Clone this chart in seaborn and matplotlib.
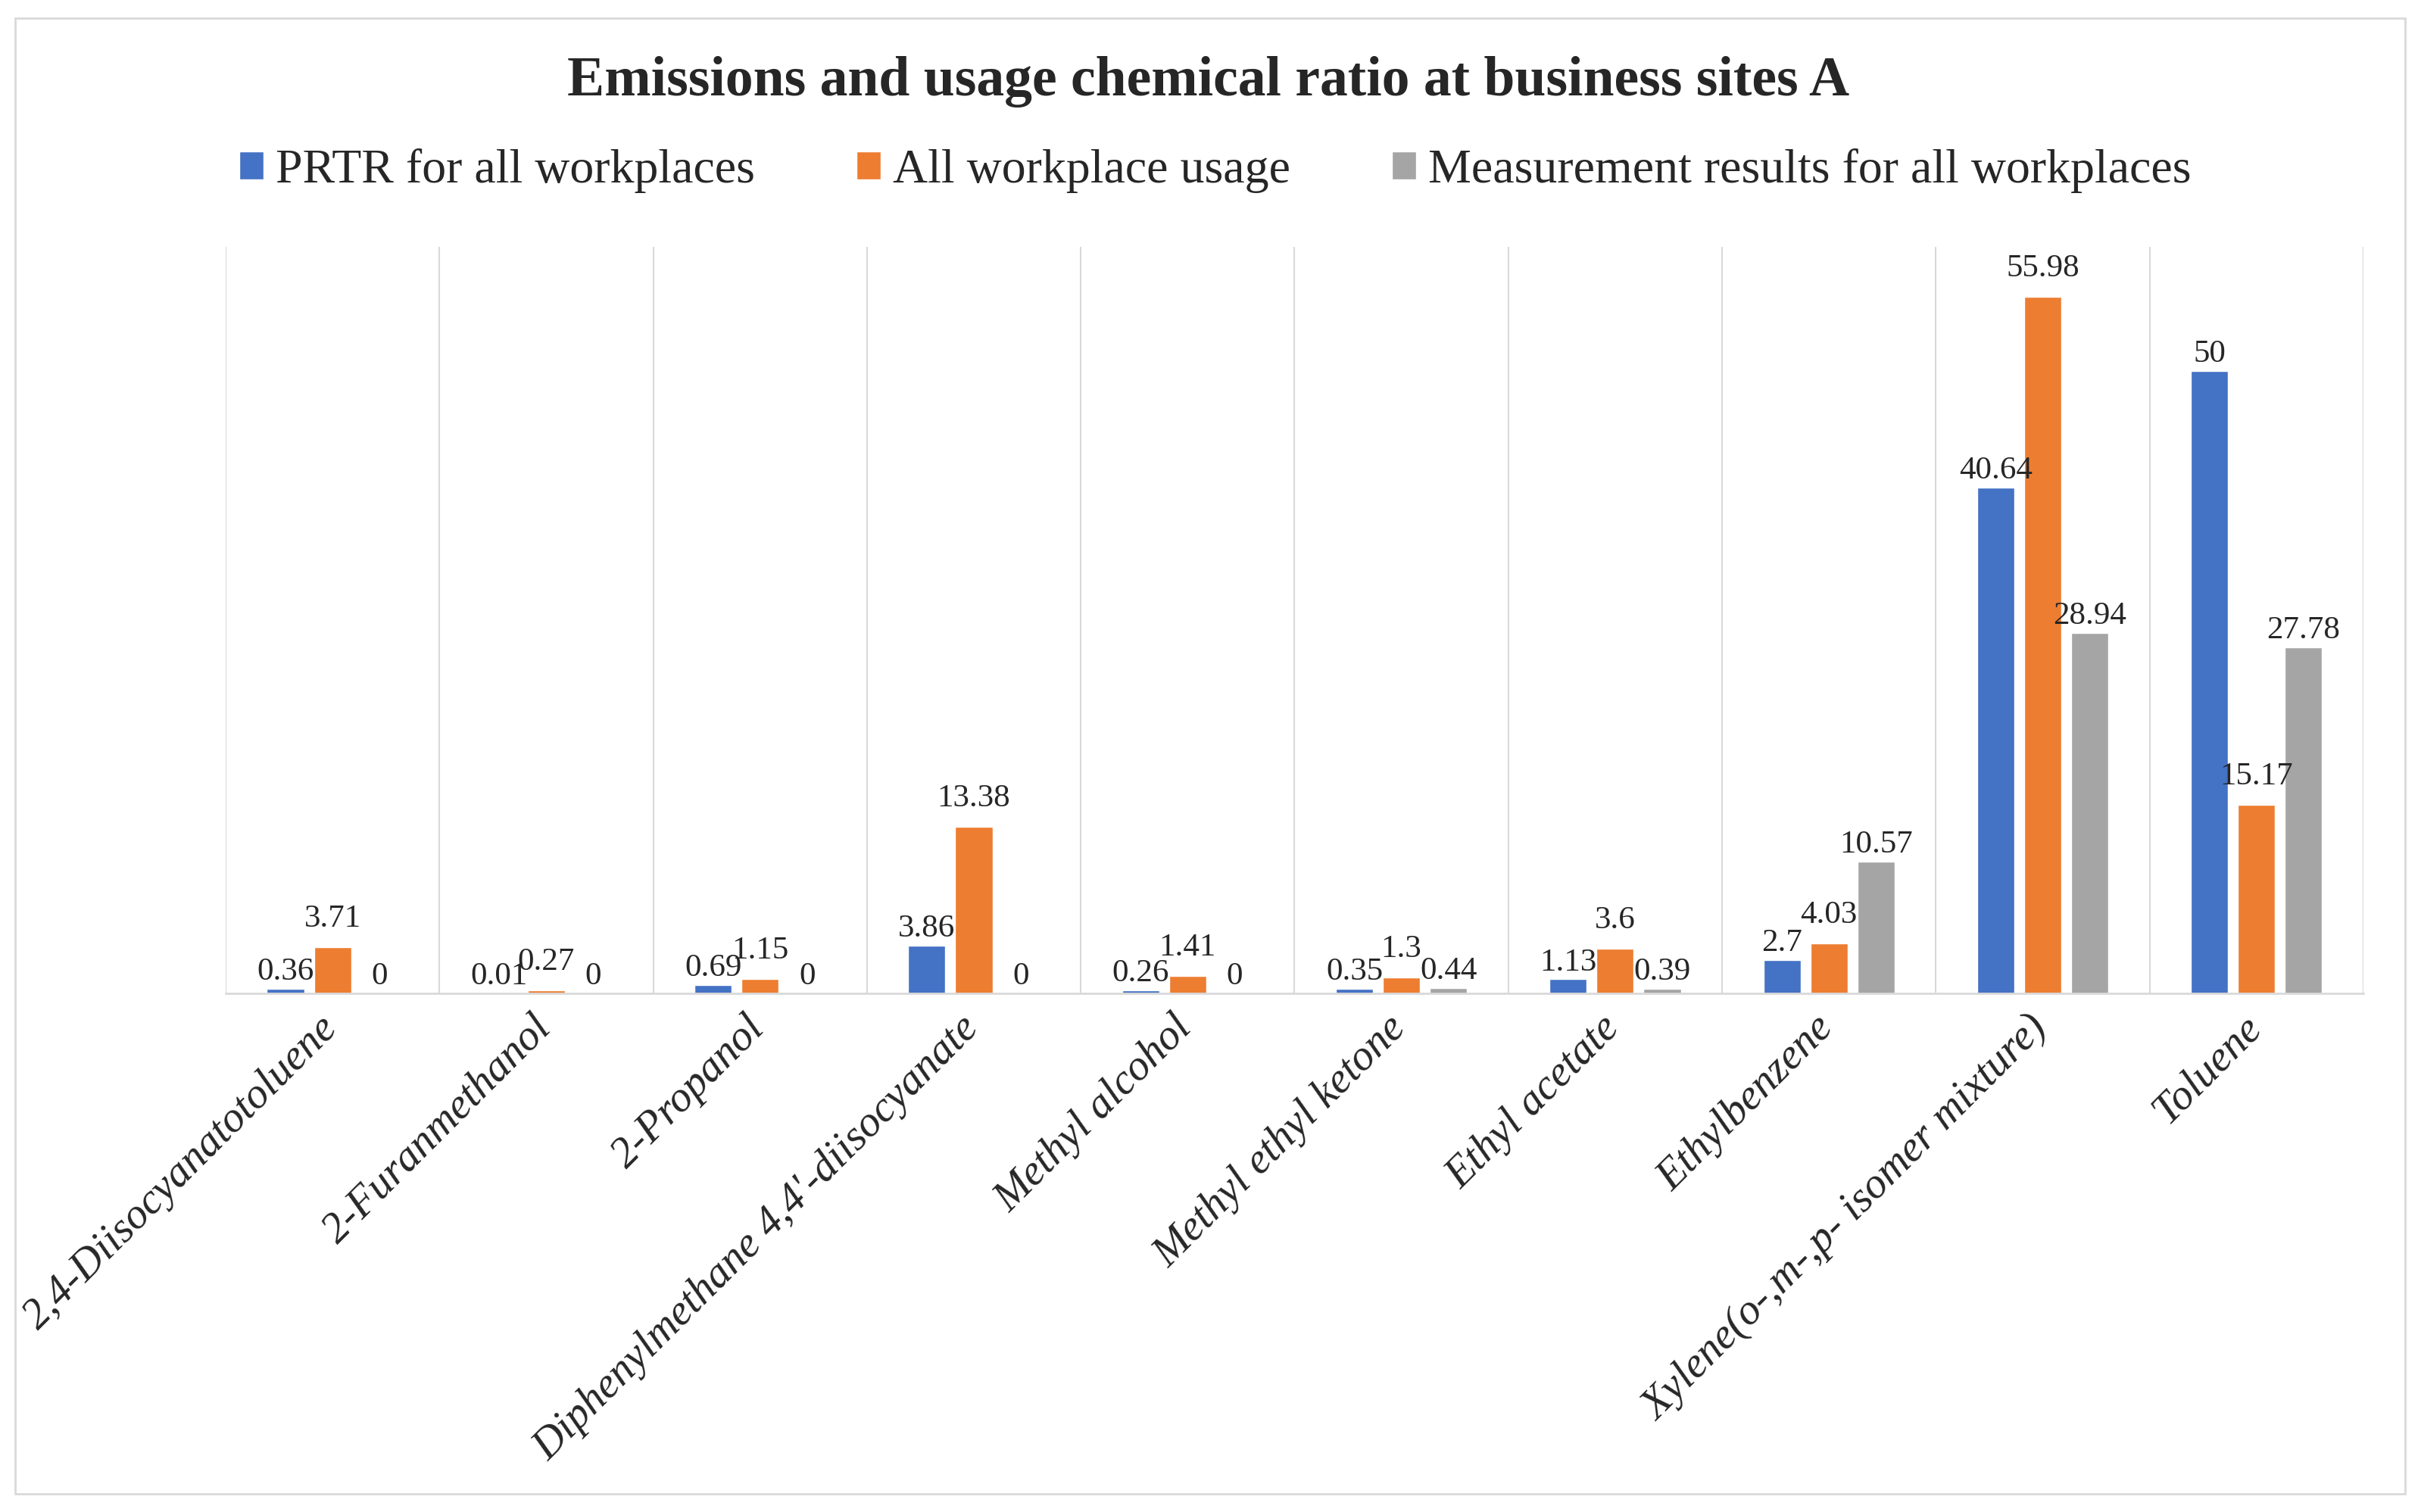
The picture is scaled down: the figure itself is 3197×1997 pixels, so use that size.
import pandas as pd
import numpy as np
import matplotlib
matplotlib.use("Agg")
import matplotlib.pyplot as plt
import matplotlib.transforms as mtransforms
from matplotlib.patches import Rectangle
import seaborn as sns

# chart values
chemicals = ["2,4-Diisocyanatotoluene", "2-Furanmethanol", "2-Propanol",
             "Diphenylmethane 4,4'-diisocyanate", "Methyl alcohol",
             "Methyl ethyl ketone", "Ethyl acetate", "Ethylbenzene",
             "Xylene(o-,m-,p- isomer mixture)", "Toluene"]
series_names = ["PRTR for all workplaces", "All workplace usage",
                "Measurement results for all workplaces"]
prtr = [0.36, 0.01, 0.69, 3.86, 0.26, 0.35, 1.13, 2.7, 40.64, 50]
usage = [3.71, 0.27, 1.15, 13.38, 1.41, 1.3, 3.6, 4.03, 55.98, 15.17]
measured = [0, 0, 0, 0, 0, 0.44, 0.39, 10.57, 28.94, 27.78]

colors = ["#4472C4", "#ED7D31", "#A5A5A5"]
grid_col = "#D9D9D9"

# long table for seaborn
df = pd.DataFrame({
    "chemical": chemicals * 3,
    "series": [s for s in series_names for _ in chemicals],
    "value": prtr + usage + measured,
})

sns.set_theme(style="white")
plt.rcParams["font.family"] = ["Liberation Serif", "DejaVu Serif"]

fig = plt.figure(figsize=(31.97, 19.97), dpi=100)
ax = fig.add_axes([0.0932, 0.343, 0.883, 0.494])

sns.barplot(data=df, x="chemical", y="value", hue="series", order=chemicals,
            hue_order=series_names, palette=colors, saturation=1,
            width=0.66, gap=0.21, errorbar=None, ax=ax)

ax.get_legend().remove()
ax.set_xlim(-0.5, len(chemicals) - 0.5)
ax.set_ylim(0, 60)
ax.set_yticks([])
ax.set_xlabel("")
ax.set_ylabel("")

# vertical lines between categories
ax.set_xticks(np.arange(-0.5, len(chemicals), 1), minor=True)
ax.grid(which="minor", axis="x", color=grid_col, linewidth=1.5)
ax.grid(which="major", visible=False)
ax.tick_params(axis="x", which="both", length=0, pad=14)

for side in ["top", "left", "right"]:
    ax.spines[side].set_visible(False)
ax.spines["bottom"].set_color(grid_col)
ax.spines["bottom"].set_linewidth(2)

ax.set_xticks(range(len(chemicals)))
ax.set_xticklabels(chemicals, rotation=45, ha="right", va="top",
                   rotation_mode="anchor", fontstyle="italic", fontsize=41)
shift = mtransforms.ScaledTranslation(-0.2, 0, fig.dpi_scale_trans)
for lbl in ax.get_xticklabels():
    lbl.set_transform(lbl.get_transform() + shift)

# value labels
for i, cont in enumerate(ax.containers):
    ax.bar_label(cont, fmt="{:g}", fontsize=31, padding=13 if i == 1 else 2)

handles, labels = ax.get_legend_handles_labels()
fig.legend(handles, labels, loc="center", bbox_to_anchor=(0.502, 0.887),
           ncol=3, frameon=False, fontsize=46, handlelength=0.5,
           handleheight=0.5, handletextpad=0.25, columnspacing=2.1)

fig.suptitle("Emissions and usage chemical ratio at business sites A",
             fontsize=53, fontweight="bold", x=0.499, y=0.946, va="center")

# outer chart border
fig.patches.append(Rectangle((0.0063, 0.012), 0.9872, 0.976, transform=fig.transFigure,
                             fill=False, edgecolor=grid_col, linewidth=2))

fig.savefig("out.png", dpi=100)
